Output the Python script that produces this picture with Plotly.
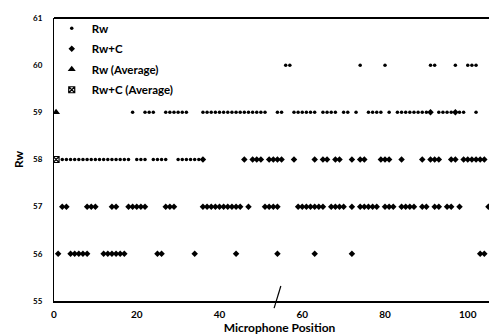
import plotly.graph_objects as go

# Rw values read per row (microphone positions)
rw_pos_60 = [56, 57, 74, 80, 91, 92, 97, 100, 101, 102]
rw_pos_59 = [19, 22, 23, 24, 27, 28, 29, 30, 31, 32, 36, 37, 38, 39, 40, 41, 42, 43,
             44, 45, 46, 47, 48, 49, 50, 51, 54, 55, 58, 59, 60, 61, 62, 63, 65, 66,
             67, 68, 70, 71, 73, 76, 77, 78, 79, 81, 83, 84, 85, 86, 87, 88, 89, 90,
             93, 94, 95, 96, 98, 99, 102, 106, 107]
rw_pos_58 = [2, 3, 4, 5, 6, 7, 8, 9, 10, 11, 12, 13, 14, 15, 16, 17, 18, 20, 21, 22,
             24, 25, 26, 27, 30, 31, 32, 33, 34, 35]

# Rw+C values read per row
rwc_pos_59 = [91, 97]
rwc_pos_58 = [36, 46, 48, 49, 50, 52, 53, 54, 55, 58, 63, 65, 66, 68, 69, 72, 74, 75,
              79, 80, 81, 84, 89, 91, 92, 93, 96, 97, 99, 100, 101, 102, 103, 104,
              106, 107]
rwc_pos_57 = [2, 3, 8, 9, 10, 14, 15, 18, 19, 20, 21, 22, 27, 28, 29, 36, 37, 38, 39,
              40, 41, 42, 43, 44, 45, 47, 51, 52, 53, 54, 59, 60, 61, 62, 63, 64, 65,
              67, 68, 69, 70, 72, 74, 75, 76, 77, 78, 80, 81, 82, 84, 85, 86, 87, 89,
              90, 92, 93, 95, 96, 98, 105]
rwc_pos_56 = [1, 4, 5, 6, 7, 8, 12, 13, 14, 15, 16, 17, 25, 26, 34, 44, 54, 63, 72,
              103, 104, 107]

rw_x = rw_pos_60 + rw_pos_59 + rw_pos_58
rw_y = [60] * len(rw_pos_60) + [59] * len(rw_pos_59) + [58] * len(rw_pos_58)
rwc_x = rwc_pos_59 + rwc_pos_58 + rwc_pos_57 + rwc_pos_56
rwc_y = ([59] * len(rwc_pos_59) + [58] * len(rwc_pos_58) + [57] * len(rwc_pos_57)
         + [56] * len(rwc_pos_56))

avg_pos = [0.5]
rw_avg = [59]
rwc_avg = [58]

x_ticks = [0, 20, 40, 60, 80, 100]
y_ticks = [55, 56, 57, 58, 59, 60, 61]

FONT = "Lato"

fig = go.Figure()
fig.add_trace(go.Scatter(x=rw_x, y=rw_y, mode="markers", name="Rw", legendgroup="a",
                         marker=dict(symbol="circle", size=3.5, color="black")))
fig.add_trace(go.Scatter(x=rwc_x, y=rwc_y, mode="markers", name="Rw+C", legendgroup="b",
                         marker=dict(symbol="diamond", size=5, color="black")))
fig.add_trace(go.Scatter(x=avg_pos, y=rw_avg, mode="markers", name="Rw (Average)",
                         legendgroup="c",
                         marker=dict(symbol="triangle-up", size=7, color="black")))
fig.add_trace(go.Scatter(x=avg_pos, y=rwc_avg, mode="markers", name="Rw+C (Average)",
                         legendgroup="d",
                         marker=dict(symbol="square-x-open", size=6, color="black",
                                     line=dict(width=1.2, color="black"))))

fig.add_shape(type="line", xref="paper", yref="paper", x0=0.488, y0=-0.025,
              x1=0.503, y1=0.053, line=dict(color="black", width=1.2))

fig.update_layout(
    width=497, height=335,
    margin=dict(l=46, r=0, t=10, b=42),
    paper_bgcolor="white", plot_bgcolor="white",
    font=dict(family=FONT, color="black", weight="bold"),
    showlegend=True,
    legend=dict(x=-0.005, y=1.015, xanchor="left", yanchor="top",
                bgcolor="rgba(0,0,0,0)", font=dict(size=11.5, family=FONT, weight="bold"),
                traceorder="grouped", tracegroupgap=1.5, itemwidth=30),
    xaxis=dict(range=[0, 109], tickvals=x_ticks, showgrid=False, zeroline=False,
               showline=True, linecolor="black", linewidth=1.5, mirror=False,
               automargin=False,
               ticks="", tickfont=dict(size=10, family=FONT, weight="bold"),
               ticklabelstandoff=3,
               title=dict(text="Microphone Position", standoff=0,
                          font=dict(size=12, family=FONT, weight="bold"))),
    yaxis=dict(range=[55, 61], tickvals=y_ticks, showgrid=False, zeroline=False,
               showline=True, linecolor="black", linewidth=1.2,
               automargin=False,
               ticks="", tickfont=dict(size=8, family=FONT, weight="bold"),
               ticklabelstandoff=9,
               title=dict(text="Rw", standoff=6,
                          font=dict(size=12, family=FONT, weight="bold"))),
)
fig.add_shape(type="line", xref="paper", yref="paper", x0=0, y0=1, x1=1, y1=1,
              line=dict(color="black", width=2))

fig.write_html("out.html")
